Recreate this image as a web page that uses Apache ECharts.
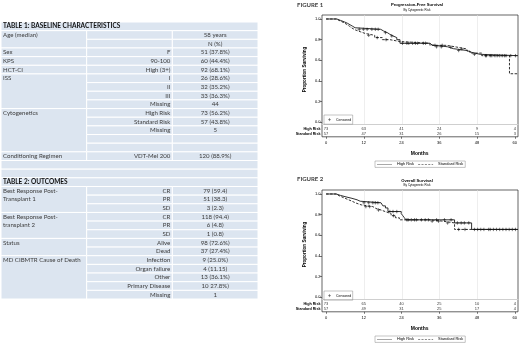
<!DOCTYPE html>
<html>
<head>
<meta charset="utf-8">
<script src="https://cdn.jsdelivr.net/npm/echarts@6/dist/echarts.min.js"></script>
<style>
  html, body { margin: 0; padding: 0; background: #fff; }
  #chart { width: 520px; height: 343px; }
</style>
</head>
<body>
<div id="chart"></div>
<script>
// ---- tables: [characteristic, level, N (%)]
const table1Title = 'TABLE 1: BASELINE CHARACTERISTICS';
const table1 = [
  ['Age (median)', '', '58 years'],
  ['', '', 'N (%)'],
  ['Sex', 'F', '51 (37.8%)'],
  ['KPS', '90-100', '60 (44.4%)'],
  ['HCT-CI', 'High (3+)', '92 (68.1%)'],
  ['ISS', 'I', '26 (28.6%)'],
  ['', 'II', '32 (35.2%)'],
  ['', 'III', '33 (36.3%)'],
  ['', 'Missing', '44'],
  ['Cytogenetics', 'High Risk', '73 (56.2%)'],
  ['', 'Standard Risk', '57 (43.8%)'],
  ['', 'Missing', '5'],
  ['', '', ''],
  ['', '', ''],
  ['Conditioning Regimen', 'VDT-Mel 200', '120 (88.9%)']
];
const table2Title = 'TABLE 2: OUTCOMES';
const table2 = [
  ['Best Response Post-\nTransplant 1', 'CR', '79 (59.4)'],
  ['', 'PR', '51 (38.3)'],
  ['', 'SD', '3 (2.3)'],
  ['Best Response Post-\ntransplant 2', 'CR', '118 (94.4)'],
  ['', 'PR', '6 (4.8)'],
  ['', 'SD', '1 (0.8)'],
  ['Status', 'Alive', '98 (72.6%)'],
  ['', 'Dead', '37 (27.4%)'],
  ['MD CIBMTR Cause of Death', 'Infection', '9 (25.0%)'],
  ['', 'Organ failure', '4 (11.15)'],
  ['', 'Other', '13 (36.1%)'],
  ['', 'Primary Disease', '10 27.8%)'],
  ['', 'Missing', '1']
];

// ---- survival figures
const riskGroups = ['High Risk', 'Standard Risk'];
const riskMonths = [0, 12, 24, 36, 48, 60];
const yTicks = [0, 0.2, 0.4, 0.6, 0.8, 1.0];

// Figure 1: progression-free survival, [month, proportion]
const pfsHigh = [[0, 1], [3.4, 0.986], [4.6, 0.972], [5.8, 0.958], [6.8, 0.944], [7.6, 0.93], [8.4, 0.915], [9.2, 0.9], [17.3, 0.884], [18.2, 0.868], [19.4, 0.852], [20.2, 0.836], [21.2, 0.82], [22.4, 0.8], [23.4, 0.765], [32.9, 0.748], [33.6, 0.731], [38.5, 0.713], [40.3, 0.695], [44.6, 0.676], [46.2, 0.658], [48.8, 0.645], [60.8, 0.645]];
const pfsStd = [[0, 1], [3.2, 0.982], [4.4, 0.965], [5.6, 0.947], [6.6, 0.93], [7.4, 0.912], [8.2, 0.895], [9.2, 0.877], [10.8, 0.86], [12.4, 0.842], [15.4, 0.82], [17.8, 0.8], [20.2, 0.782], [23.4, 0.765], [32.9, 0.745], [38.2, 0.728], [41.4, 0.71], [44.6, 0.69], [45.6, 0.67], [49.3, 0.645], [58.1, 0.47], [60.8, 0.47]];
const pfsHighCens = [[10.5, 0.9], [11.8, 0.9], [13, 0.9], [14.5, 0.9], [15.6, 0.9], [16.5, 0.9], [18.8, 0.868], [20.8, 0.836], [24.2, 0.765], [25.6, 0.765], [27.4, 0.765], [29, 0.765], [30.8, 0.765], [35, 0.731], [36.5, 0.731], [42, 0.695], [47, 0.658], [50.5, 0.645], [52, 0.645], [53.5, 0.645], [55, 0.645], [56.5, 0.645], [58.5, 0.645], [60, 0.645]];
const pfsStdCens = [[13.5, 0.842], [16.2, 0.82], [19, 0.8], [26.2, 0.765], [28.3, 0.765], [31.5, 0.765], [34.5, 0.745], [36.8, 0.745], [39.5, 0.728], [43, 0.71], [50.8, 0.645], [52.5, 0.645], [54.2, 0.645], [55.8, 0.645], [57, 0.645]];
const pfsRiskHigh = [73, 63, 41, 24, 9, 4];
const pfsRiskStd = [57, 47, 31, 26, 15, 3];

// Figure 2: overall survival
const osHigh = [[0, 1], [3.2, 0.986], [4.6, 0.972], [6.3, 0.958], [8.2, 0.944], [9.8, 0.93], [10.8, 0.915], [17.4, 0.9], [18, 0.885], [18.8, 0.865], [19.6, 0.83], [23.8, 0.81], [24.3, 0.79], [24.8, 0.77], [25.3, 0.75], [40.7, 0.72], [46.1, 0.657], [60.8, 0.657]];
const osStd = [[0, 1], [3.2, 0.982], [4.2, 0.965], [5.5, 0.947], [6.9, 0.93], [8.2, 0.912], [9.5, 0.895], [11.1, 0.878], [14.8, 0.86], [15.8, 0.845], [17.4, 0.827], [19, 0.81], [20.6, 0.79], [22, 0.77], [23.2, 0.75], [32.7, 0.737], [37, 0.72], [40.7, 0.657], [60.8, 0.657]];
const osHighCens = [[12, 0.915], [13.5, 0.915], [14.8, 0.915], [15.6, 0.915], [16.4, 0.915], [20.2, 0.83], [21.2, 0.83], [22.4, 0.83], [26, 0.75], [27, 0.75], [28.6, 0.75], [30.2, 0.75], [31.4, 0.75], [32.4, 0.75], [35, 0.75], [37.5, 0.75], [39.6, 0.75], [41.6, 0.72], [42.8, 0.72], [43.8, 0.72], [45.2, 0.72], [48, 0.657], [50, 0.657], [52, 0.657], [54, 0.657], [56, 0.657], [58, 0.657], [60, 0.657]];
const osStdCens = [[12.6, 0.878], [13.8, 0.878], [16.6, 0.845], [21.4, 0.79], [25.6, 0.75], [28, 0.75], [33.6, 0.737], [35.6, 0.737], [38.5, 0.72], [42, 0.657], [44, 0.657], [47, 0.657], [49, 0.657], [51.5, 0.657], [53, 0.657], [55, 0.657], [57, 0.657], [59, 0.657]];
const osRiskHigh = [73, 65, 40, 25, 10, 4];
const osRiskStd = [57, 49, 31, 25, 17, 4];

const figures = [
  { label: 'FIGURE 1', title: 'Progression-Free Survival', sub: 'By Cytogenetic Risk',
    high: pfsHigh, std: pfsStd, highCens: pfsHighCens, stdCens: pfsStdCens, riskHigh: pfsRiskHigh, riskStd: pfsRiskStd },
  { label: 'FIGURE 2', title: 'Overall Survival', sub: 'By Cytogenetic Risk',
    high: osHigh, std: osStd, highCens: osHighCens, stdCens: osStdCens, riskHigh: osRiskHigh, riskStd: osRiskStd }
];

// ---- table rows
const tableRows = [{ kind: 'head', text: table1Title }]
  .concat(table1.map(c => ({ kind: 'row', cells: c })))
  .concat([{ kind: 'gap' }, { kind: 'gap' }, { kind: 'head', text: table2Title }])
  .concat(table2.map(c => ({ kind: 'row', cells: c })));

// how many rows each first-column cell covers (empty cells below merge into it)
tableRows.forEach((r, i) => {
  if (r.kind !== 'row' || r.cells[0] === '' && i > 0 && tableRows[i - 1].kind === 'row') return;
  let span = 1;
  while (tableRows[i + span] && tableRows[i + span].kind === 'row' && tableRows[i + span].cells[0] === '') span++;
  r.span = span;
});

const cellFill = '#dce5f0';
const tableFont = 'Lato';

function renderTableRow(params, api) {
  const i = api.value(1);
  const row = tableRows[i];
  const p = api.coord([0, i]);
  const size = api.size([1, 1]);
  const colW = size[0];
  const rowH = size[1];
  const top = p[1] - rowH / 2;
  const x0 = p[0];
  const children = [];
  function cell(c0, c1, span) {
    children.push({
      type: 'rect',
      shape: { x: x0 + c0 * colW, y: top, width: (c1 - c0) * colW, height: rowH * span },
      style: { fill: cellFill, stroke: '#fff', lineWidth: 1 }
    });
  }
  function text(str, x, align, bold) {
    children.push({
      type: 'text',
      x: x, y: top,
      style: {
        text: str, align: align, verticalAlign: 'top', lineHeight: rowH,
        fontSize: bold ? 6.5 : 6.1, fontWeight: bold ? 'bold' : 'normal',
        fontFamily: tableFont, fill: bold ? '#111' : '#3c3c3c'
      }
    });
  }
  if (row.kind === 'gap') {
    cell(0, 3, 1);
  } else if (row.kind === 'head') {
    cell(0, 3, 1);
    text(row.text, x0 + 2, 'left', true);
  } else {
    if (row.span) {
      cell(0, 1, row.span);
      text(row.cells[0], x0 + 2, 'left', false);
    }
    cell(1, 2, 1);
    cell(2, 3, 1);
    text(row.cells[1], x0 + 2 * colW - 2, 'right', false);
    text(row.cells[2], x0 + 2.5 * colW, 'center', false);
  }
  return { type: 'group', children: children };
}

// ---- option
const axisFont = 'Liberation Sans';
const plusSymbol = 'path://M0,5H10M5,0V10';
// legend line icons drawn as thin filled bars
const solidIcon = 'path://M0,0H40V1H0Z';
let dashedIcon = 'path://';
for (let x = 0; x < 40; x += 9) dashedIcon += 'M' + x + ',0H' + Math.min(x + 5.5, 40) + 'V1H' + x + 'Z';

const grid = [{ left: 1, top: 22, width: 257, height: 277 }];
const xAxis = [{ type: 'value', gridIndex: 0, min: 0, max: 3, show: false }];
const yAxis = [{ type: 'category', gridIndex: 0, inverse: true, show: false, data: tableRows.map((r, i) => i) }];
const series = [{
  type: 'custom',
  xAxisIndex: 0,
  yAxisIndex: 0,
  silent: true,
  renderItem: renderTableRow,
  data: tableRows.map((r, i) => [0, i])
}];
const title = [];
const legend = [];

figures.forEach((fig, f) => {
  const dy = f * 175;
  const g = 1 + f * 3;
  title.push(
    { text: fig.label, left: 297, top: 2 + dy - f * 0.5, padding: 0,
      textStyle: { fontSize: 6, fontWeight: 'bold', color: '#404040', fontFamily: tableFont } },
    { text: fig.title, left: 417, top: 2.6 + dy + f * 1.3, padding: 0, textAlign: 'center',
      textStyle: { fontSize: 4.2, fontWeight: 'bold', color: '#000', fontFamily: axisFont } },
    { text: fig.sub, left: 417, top: 9 + dy, padding: 0, textAlign: 'center',
      textStyle: { fontSize: 3, fontWeight: 'normal', color: '#000', fontFamily: axisFont } }
  );
  // outer frame, curve area, at-risk area
  grid.push(
    { left: 322, top: 15 + dy, width: 196, height: 121.8, show: true, borderColor: '#222', borderWidth: 0.7, backgroundColor: 'transparent' },
    { left: 322, top: 15 + dy, width: 196, height: 109 },
    { left: 322, top: 126.8 + dy, width: 196, height: 10 }
  );
  xAxis.push(
    { type: 'value', gridIndex: g, min: 0, max: 1, show: false },
    { type: 'value', gridIndex: g + 1, min: -1.3, max: 60.8,
      axisLine: { show: true, onZero: false, lineStyle: { color: '#cfcfcf', width: 1.2 } },
      axisTick: { show: false }, axisLabel: { show: false }, splitLine: { show: false } },
    { type: 'value', gridIndex: g + 2, min: -1.3, max: 60.8,
      name: 'Months', nameLocation: 'middle', nameGap: 14,
      nameTextStyle: { fontSize: 5, fontWeight: 'bold', color: '#000', fontFamily: axisFont },
      axisLine: { show: false, onZero: false },
      axisTick: { show: true, length: 2, customValues: riskMonths, lineStyle: { color: '#222', width: 0.6 } },
      axisLabel: { customValues: riskMonths, fontSize: 4, margin: 4, color: '#000', fontFamily: axisFont },
      splitLine: { show: false } }
  );
  yAxis.push(
    { type: 'value', gridIndex: g, min: 0, max: 1, show: false },
    { type: 'value', gridIndex: g + 1, min: -0.0165, max: 1.0387,
      name: 'Proportion Surviving', nameLocation: 'middle', nameGap: 14.5,
      nameTextStyle: { fontSize: 4.6, fontWeight: 'bold', color: '#000', fontFamily: axisFont },
      axisLine: { show: false, onZero: false },
      axisTick: { show: true, length: 2.5, customValues: yTicks, lineStyle: { color: '#222', width: 0.6 } },
      axisLabel: { customValues: yTicks, fontSize: 4, margin: 1.5, color: '#000', fontFamily: axisFont,
        formatter: v => v.toFixed(1) },
      splitLine: { show: false } },
    { type: 'category', gridIndex: g + 2, inverse: true, data: riskGroups,
      axisLine: { show: false, onZero: false }, axisTick: { show: false },
      axisLabel: { interval: 0, fontSize: 3.7, fontWeight: 'bold', margin: 1.5, color: '#000', fontFamily: axisFont } }
  );
  series.push(
    { type: 'line', name: 'High Risk', xAxisIndex: g + 1, yAxisIndex: g + 1, data: fig.high,
      step: 'end', symbol: 'none', z: 3, lineStyle: { color: '#1a1a1a', width: 0.9 },
      markLine: { silent: true, symbol: 'none', label: { show: false }, z: 1,
        lineStyle: { color: '#e2e2e2', width: 0.6, type: 'solid' },
        data: riskMonths.slice(1, -1).map(m => ({ xAxis: m })) } },
    { type: 'line', name: 'Standard Risk', xAxisIndex: g + 1, yAxisIndex: g + 1, data: fig.std,
      step: 'end', symbol: 'none', z: 3, lineStyle: { color: '#1a1a1a', width: 0.9, type: [2.5, 1.5] } },
    { type: 'scatter', name: 'Censored', xAxisIndex: g + 1, yAxisIndex: g + 1, data: fig.highCens,
      symbol: plusSymbol, symbolSize: 3.4, z: 4,
      itemStyle: { color: 'none', borderColor: '#111', borderWidth: 0.7 } },
    { type: 'scatter', name: 'Censored', xAxisIndex: g + 1, yAxisIndex: g + 1, data: fig.stdCens,
      symbol: plusSymbol, symbolSize: 3.4, z: 4,
      itemStyle: { color: 'none', borderColor: '#111', borderWidth: 0.7 } },
    { type: 'scatter', name: 'At Risk', xAxisIndex: g + 2, yAxisIndex: g + 2, silent: true,
      symbolSize: 1, itemStyle: { color: 'transparent' },
      label: { show: true, position: 'inside', fontSize: 4, color: '#000', fontFamily: axisFont,
        formatter: p => p.value[2] },
      data: riskMonths.map((m, k) => [m, riskGroups[0], fig.riskHigh[k]])
        .concat(riskMonths.map((m, k) => [m, riskGroups[1], fig.riskStd[k]])) }
  );
  legend.push(
    { left: 375, top: 161 + dy, selectedMode: false,
      itemWidth: 15, itemHeight: 0.8, itemGap: 4, padding: [1.2, 2], borderColor: '#888', borderWidth: 0.5,
      textStyle: { fontSize: 4, color: '#000', fontFamily: axisFont },
      data: [
        { name: 'High Risk', icon: solidIcon, itemStyle: { color: '#1a1a1a', borderWidth: 0 } },
        { name: 'Standard Risk', icon: dashedIcon, itemStyle: { color: '#1a1a1a', borderWidth: 0 } }
      ] },
    { left: 324, top: 115 + dy + f, selectedMode: false,
      itemWidth: 3, itemHeight: 3, padding: [0.6, 1.5], borderColor: '#888', borderWidth: 0.5,
      textStyle: { fontSize: 3.5, color: '#000', fontFamily: axisFont },
      data: [{ name: 'Censored', icon: plusSymbol,
        itemStyle: { color: 'none', borderColor: '#111', borderWidth: 0.5 } }] }
  );
});

const chart = echarts.init(document.getElementById('chart'), null, { renderer: 'canvas' });
chart.setOption({
  animation: false,
  backgroundColor: '#fff',
  textStyle: { fontFamily: axisFont },
  title: title,
  legend: legend,
  tooltip: { show: false },
  grid: grid,
  xAxis: xAxis,
  yAxis: yAxis,
  series: series
});
</script>
</body>
</html>
